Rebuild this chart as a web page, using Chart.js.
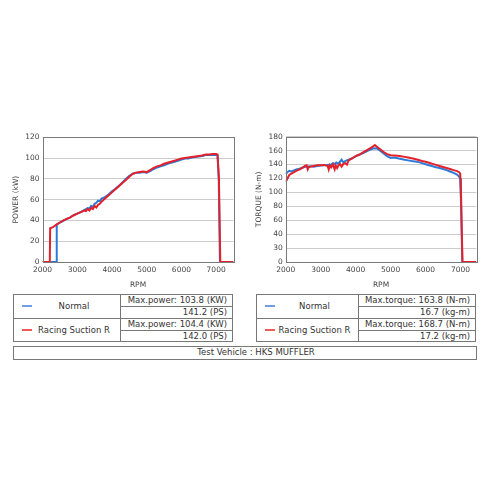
<!DOCTYPE html>
<html>
<head>
<meta charset="utf-8">
<script src="https://cdn.jsdelivr.net/npm/chart.js@4.4.1/dist/chart.umd.min.js"></script>
<style>
  html, body { margin: 0; padding: 0; background: #fff; }
  body { width: 490px; height: 490px; position: relative; overflow: hidden; font-family: "DejaVu Sans", sans-serif; color: #333; }
  canvas { position: absolute; }
  .box { position: absolute; box-sizing: border-box; border: 1px solid #777; }
  .ln { position: absolute; background: #777; }
  .t { position: absolute; font-size: 8.5px; white-space: nowrap; line-height: 12px; }
  .r { text-align: right; }
  .c { text-align: center; }
  .dash { position: absolute; height: 2px; }
</style>
</head>
<body>
<canvas id="power" width="242" height="162" style="left:0px;top:128px;width:242px;height:162px"></canvas>
<canvas id="torque" width="240" height="162" style="left:245px;top:128px;width:240px;height:162px"></canvas>
<div id="tables"></div>
<script>
// ---------------- DATA ----------------
const rpmTicks = [2000, 3000, 4000, 5000, 6000, 7000];
const powerTicks = [0, 20, 40, 60, 80, 100, 120];
const torqueTickValues = [0, 20, 40, 60, 80, 100, 120, 140, 160, 180];
const torqueTickLabels = ['0', '30', '40', '60', '80', '100', '120', '140', '160', '180'];

const powerRacingRpm = [2000,2210,2220,2300,2400,2500,2600,2700,2800,2900,3000,3100,3200,3250,3300,3350,3400,3450,3500,3550,3600,3650,3700,3800,3900,4000,4100,4200,4300,4400,4500,4600,4700,4800,4900,5000,5100,5200,5300,5400,5500,5600,5700,5800,5900,6000,6100,6200,6300,6400,6500,6600,6700,6800,6900,7000,7040,7080,7120,7500];
const powerRacingKw  = [0,0,32.5,33.5,36,38,40,41.5,43,45,46.5,48,49.5,49,51,49.5,52,51,54,52.5,55,56,58,61,64,67,70,73,76,79,82,85,86,86.5,87,86.5,88.5,90.5,92,93,94.5,95.5,96.5,97.5,98.5,99.5,100,100.5,101,101.5,102,102.5,103.5,103.5,104,104,103.5,81,0,0];

const powerNormalRpm = [2000,2400,2410,2500,2600,2700,2800,2900,3000,3100,3200,3300,3350,3400,3450,3500,3550,3600,3650,3700,3800,3900,4000,4100,4200,4300,4400,4500,4600,4700,4800,4900,5000,5100,5200,5300,5400,5500,5600,5700,5800,5900,6000,6100,6200,6300,6400,6500,6600,6700,6800,6900,7000,7040,7075,7110,7500];
const powerNormalKw  = [0,0,36,38,39.5,41.5,43,45,46.5,48,50,52,51.5,54,53,56,57,59,58.5,61,62.5,65,68,70.5,73.5,76.5,80,83,85,86,86,86.5,86,87.5,89.5,91,92,93,94.5,95.5,96.5,97.5,98.5,99.5,99.5,100.5,101,101.5,102,103,103,103,103,102.5,80,0,0];

const torqueRacingRpm = [2000,2050,2100,2200,2300,2400,2500,2550,2600,2630,2660,2700,2800,2900,3000,3100,3200,3230,3260,3300,3350,3400,3430,3470,3500,3550,3600,3650,3700,3750,3800,3900,4000,4100,4200,4300,4400,4500,4550,4600,4700,4800,4900,5000,5100,5200,5300,5400,5500,5600,5700,5800,5900,6000,6100,6200,6300,6400,6500,6600,6700,6800,6900,6960,6990,7015,7055,7450];
const torqueRacingNm  = [115,120,125,128,131,133,136,138,139,133,136,137,138,139,139,139.5,138,133,139,136,140,133,139,135,138,141,137,141,142,140,146,149,152,154,157,160,163,166,168,166,162,158,155,153.5,153,152.5,152,151,150,149,148,146.5,145,144,142.5,141,139.5,138,136.5,135,133.5,132,130.5,129,127,95,0,0];

const torqueNormalRpm = [2000,2050,2100,2150,2200,2300,2400,2500,2600,2700,2800,2900,3000,3100,3200,3300,3350,3400,3450,3500,3550,3600,3650,3700,3800,3900,4000,4100,4200,4300,4400,4500,4600,4700,4800,4900,5000,5100,5200,5300,5400,5500,5600,5700,5800,5900,6000,6100,6200,6300,6400,6500,6600,6700,6800,6900,6960,6990,7010,7050,7450];
const torqueNormalNm  = [126,129,131,130,131,133,134,136,137,137.5,137,138,138.5,139,139.5,140,142,141,143,141,144,147,143,145,147,149,152,154,156,158.5,161,163,163.5,160,156,152,149.5,150,149,148,147,146,145,144.5,143.5,142,140.5,139,137.5,136,135,133.5,132,130,128,125.5,122.5,120,90,0,0];

const seriesNames = ['Normal', 'Racing Suction R'];
const powerStats = [['Max.power: 103.8 (KW)', '141.2 (PS)'], ['Max.power: 104.4 (KW)', '142.0 (PS)']];
const torqueStats = [['Max.torque: 163.8 (N-m)', '16.7 (kg-m)'], ['Max.torque: 168.7 (N-m)', '17.2 (kg-m)']];
const vehicleText = 'Test Vehicle : HKS MUFFLER';

// ---------------- CHARTS ----------------
const RED = '#e4212a';
const BLUE = '#2b7ad8';
const FONT = { family: 'DejaVu Sans', size: 7.5 };

function pts(xs, ys) { return xs.map((x, i) => ({ x: x, y: ys[i] })); }

const frame = {
  id: 'frame',
  afterDatasetsDraw(chart) {
    const a = chart.chartArea, c = chart.ctx;
    c.save();
    c.strokeStyle = '#7a7a7a';
    c.lineWidth = 1;
    c.strokeRect(Math.round(a.left) + 0.5, Math.round(a.top) + 0.5, Math.round(a.right - a.left), Math.round(a.bottom - a.top));
    c.restore();
  }
};

function makeChart(id, cfg) {
  return new Chart(document.getElementById(id), {
    type: 'line',
    data: {
      datasets: [
        { label: seriesNames[1], data: pts(cfg.redX, cfg.redY), borderColor: RED, borderWidth: 2, pointRadius: 0, tension: 0, order: 0 },
        { label: seriesNames[0], data: pts(cfg.blueX, cfg.blueY), borderColor: BLUE, borderWidth: 2, pointRadius: 0, tension: 0, order: 1 }
      ]
    },
    options: {
      responsive: false,
      animation: false,
      devicePixelRatio: 1,
      layout: { padding: { top: cfg.padTop, right: cfg.padRight, left: 0, bottom: 0 } },
      plugins: { legend: { display: false }, tooltip: { enabled: false } },
      scales: {
        x: {
          type: 'linear', min: 2000, max: cfg.xMax,
          afterBuildTicks: s => { s.ticks = rpmTicks.map(v => ({ value: v })); },
          afterFit: s => { s.height = 28; },
          grid: { display: false, drawTicks: false },
          border: { display: false },
          ticks: { font: FONT, color: '#444', padding: 4, maxRotation: 0, autoSkip: false, callback: v => String(v) },
          title: { display: true, text: 'RPM', font: FONT, color: '#444', padding: { top: 1, bottom: 0 } }
        },
        y: {
          min: 0, max: cfg.yMax,
          afterBuildTicks: s => { s.ticks = cfg.yTicks.map(v => ({ value: v })); },
          afterFit: s => { s.width = cfg.yWidth; },
          grid: { color: '#cccccc', lineWidth: 1, drawTicks: false },
          border: { display: false },
          ticks: { font: FONT, color: '#444', padding: 3, callback: cfg.yLabel },
          title: { display: true, text: cfg.yTitle, font: FONT, color: '#444', padding: { top: cfg.titlePad, bottom: 0 } }
        }
      }
    },
    plugins: [frame]
  });
}

makeChart('power', {
  redX: powerRacingRpm, redY: powerRacingKw, blueX: powerNormalRpm, blueY: powerNormalKw,
  xMax: 7500, yMax: 120, yTicks: powerTicks, yWidth: 42.5, padTop: 9.3, padRight: 8.5,
  yTitle: 'POWER (kW)', titlePad: 12, yLabel: v => String(v)
});

makeChart('torque', {
  redX: torqueRacingRpm, redY: torqueRacingNm, blueX: torqueNormalRpm, blueY: torqueNormalNm,
  xMax: 7450, yMax: 180, yTicks: torqueTickValues, yWidth: 40.7, padTop: 8.7, padRight: 8.7,
  yTitle: 'TORQUE (N-m)', titlePad: 10,
  yLabel: v => torqueTickLabels[torqueTickValues.indexOf(v)]
});

// ---------------- TABLES ----------------
const host = document.getElementById('tables');
function el(cls, style, text) {
  const d = document.createElement('div');
  d.className = cls;
  d.setAttribute('style', style);
  if (text !== undefined) d.textContent = text;
  host.appendChild(d);
  return d;
}
function table(left, split, right, stats) {
  const top = 294, w = right - left;
  el('box', `left:${left}px;top:${top}px;width:${w}px;height:48px;`);
  el('ln', `left:${split}px;top:${top}px;width:1px;height:48px;`);
  el('ln', `left:${left}px;top:${top + 24}px;width:${w}px;height:1px;`);
  el('ln', `left:${split}px;top:${top + 12}px;width:${right - split}px;height:1px;`);
  el('ln', `left:${split}px;top:${top + 36}px;width:${right - split}px;height:1px;`);
  const dashCol = ['#6e9fe6', '#ef5b5b'];
  for (let i = 0; i < 2; i++) {
    const rowTop = top + i * 24;
    el('dash', `left:${left + 9}px;top:${rowTop + 11}px;width:10px;background:${dashCol[i]};`);
    el('t c', `left:${left + 19}px;top:${rowTop + 6}px;width:${split - left - 23}px;`, seriesNames[i]);
    el('t r', `left:${split}px;top:${rowTop}px;width:${right - split - 6}px;`, stats[i][0]);
    el('t r', `left:${split}px;top:${rowTop + 12}px;width:${right - split - 6}px;`, stats[i][1]);
  }
}
table(13, 120, 233, powerStats);
table(256, 358, 476, torqueStats);
el('box', 'left:13px;top:346px;width:464px;height:14px;');
el('t c', 'left:24px;top:346px;width:464px;line-height:13px;', vehicleText);
</script>
</body>
</html>
